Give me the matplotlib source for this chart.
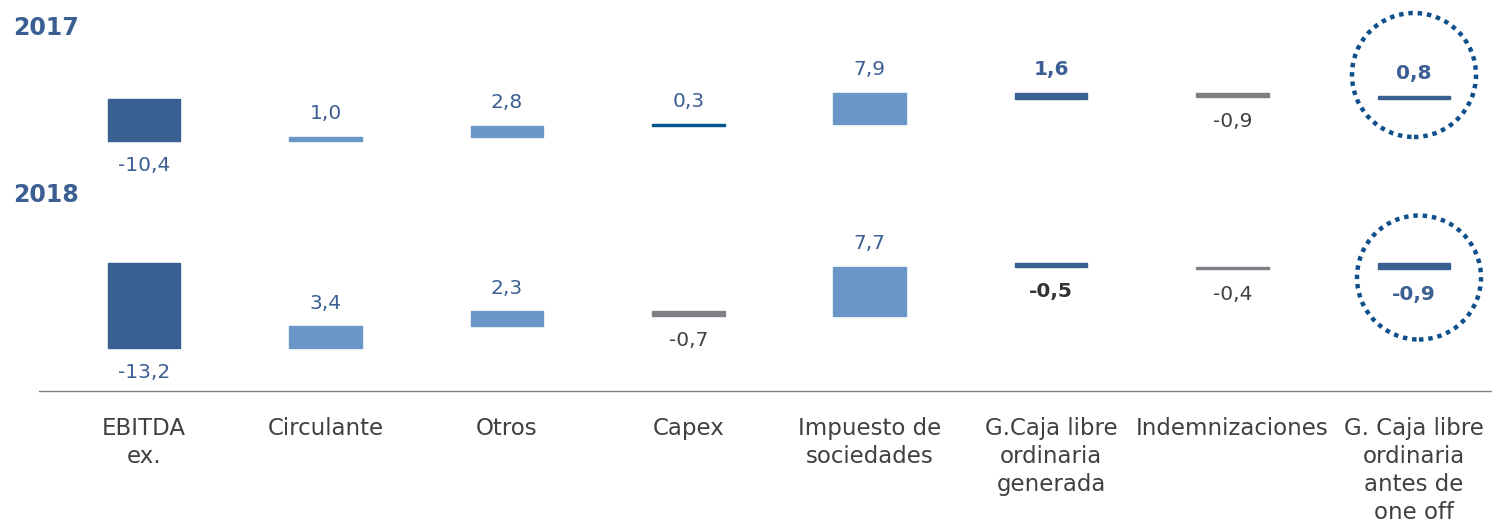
import matplotlib.pyplot as plt
from matplotlib.patches import Circle
from matplotlib.transforms import ScaledTranslation

categorias = ["EBITDA\nex.", "Circulante", "Otros", "Capex",
              "Impuesto de\nsociedades", "G.Caja libre\nordinaria\ngenerada",
              "Indemnizaciones", "G. Caja libre\nordinaria\nantes de\none off"]
# inicio: barra desde cero, var: variación sobre el acumulado, total: subtotal desde cero
tipos = ["inicio", "var", "var", "var", "var", "total", "var", "total"]

valores_2017 = [-10.4, 1.0, 2.8, 0.3, 7.9, 1.6, -0.9, 0.8]
valores_2018 = [-13.2, 3.4, 2.3, -0.7, 7.7, -0.5, -0.4, -0.9]

AZUL = "#3A6092"
AZUL_CLARO = "#6B96C8"
AZUL_CAPEX = "#00568C"
GRIS = "#7F7F85"
TXT_AZUL = "#3B5F92"
TXT_GRIS = "#404040"
PUNTOS = "#0D4F8B"

colores_2017 = [AZUL, AZUL_CLARO, AZUL_CLARO, AZUL_CAPEX, AZUL_CLARO, AZUL, GRIS, AZUL]
colores_2018 = [AZUL, AZUL_CLARO, AZUL_CLARO, GRIS, AZUL_CLARO, AZUL, GRIS, AZUL]
txt_2017 = [TXT_AZUL] * 6 + [TXT_GRIS, TXT_AZUL]
txt_2018 = [TXT_AZUL, TXT_AZUL, TXT_AZUL, TXT_GRIS, TXT_AZUL, "#333333", TXT_GRIS, TXT_AZUL]
negrita = [False] * 5 + [True, False, True]


def cascada(valores, tipos):
    bases = []
    acum = 0
    for v, t in zip(valores, tipos):
        if t == "var":
            bases.append(acum)
            acum += v
        else:
            bases.append(0)
            acum = v
    return bases


def dibuja_fila(ax, valores, colores, txt_col, circulo_dx, circulo_dy):
    x = list(range(len(valores)))
    bases = cascada(valores, tipos)
    ax.bar(x, valores, bottom=bases, width=0.4, color=colores,
           edgecolor=colores, linewidth=1.0)
    for i, (v, b) in enumerate(zip(valores, bases)):
        if v >= 0:
            y, dy = b + v, 16.5
        else:
            y, dy = b + v, -18
        ax.annotate(f"{v:.1f}".replace(".", ","), (i, y), xytext=(0, dy),
                    textcoords="offset points", ha="center", va="center",
                    fontsize=14.5, color=txt_col[i],
                    fontweight="bold" if negrita[i] else "normal",
                    annotation_clip=False)
    # círculo punteado alrededor del último subtotal
    trans = fig.dpi_scale_trans + ScaledTranslation(x[-1], 0, ax.transData)
    circ = Circle((circulo_dx, circulo_dy), radius=0.62, transform=trans,
                  fill=False, edgecolor=PUNTOS, linewidth=3.2,
                  linestyle=(0, (1, 1.1)), clip_on=False)
    ax.add_patch(circ)
    ax.set_xlim(-0.58, 7.43)


fig = plt.figure(figsize=(14.92, 5.28), dpi=100)

ax1 = fig.add_axes([0.0261, 0.6591, 0.9739, 0.3030])
ax2 = fig.add_axes([0.0261, 0.2600, 0.9739, 0.3612])

dibuja_fila(ax1, valores_2017, colores_2017, txt_2017, 0.0, 0.243)
dibuja_fila(ax2, valores_2018, colores_2018, txt_2018, 0.05, -0.142)
ax1.set_ylim(-20.18, 19.83)
ax2.set_ylim(-19.91, 9.89)

for ax in (ax1, ax2):
    for s in ax.spines.values():
        s.set_visible(False)
    ax.set_yticks([])
    ax.patch.set_alpha(0)
ax1.set_xticks([])

ax2.spines["bottom"].set_visible(True)
ax2.spines["bottom"].set_color("#808080")
ax2.spines["bottom"].set_linewidth(1.0)
ax2.set_xticks(range(len(categorias)), categorias)
ax2.tick_params(axis="x", length=0, pad=19, labelsize=16.5, labelcolor=TXT_GRIS)
for t in ax2.get_xticklabels():
    t.set_linespacing(1.28)

fig.text(13 / 1492, 1 - 28 / 528, "2017", fontsize=17, fontweight="bold",
         color=TXT_AZUL, va="center", ha="left")
fig.text(13 / 1492, 1 - 195 / 528, "2018", fontsize=17, fontweight="bold",
         color=TXT_AZUL, va="center", ha="left")

fig.savefig("out.png", dpi=100)
